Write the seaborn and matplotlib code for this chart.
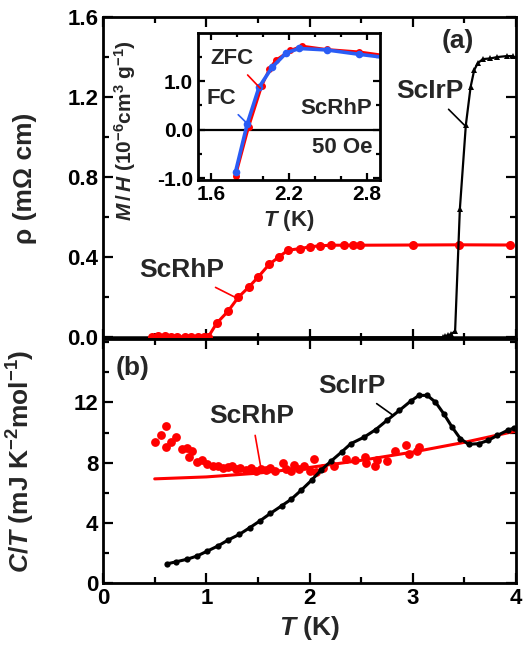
import seaborn as sns
import matplotlib.pyplot as plt
from matplotlib.ticker import MultipleLocator

# (a) resistivity, ScRhP
rhp_T = [0.47, 0.53, 0.60, 0.66, 0.72, 0.79, 0.85, 0.92, 0.98, 1.02, 1.10, 1.21,
         1.31, 1.41, 1.50, 1.61, 1.70, 1.79, 1.91, 2.00, 2.10, 2.21, 2.33, 2.42,
         2.49, 3.00, 3.45, 3.94]
rhp_rho = [0.003, 0.005, 0.004, 0.003, 0.003, 0.002, 0.002, 0.001, 0.001, 0.003,
           0.07, 0.13, 0.20, 0.25, 0.30, 0.365, 0.40, 0.435, 0.443, 0.452, 0.457,
           0.46, 0.46, 0.46, 0.46, 0.461, 0.462, 0.461]
# (a) resistivity, ScIrP
irp_T = [2.0, 3.29, 3.31, 3.34, 3.37, 3.41, 3.456, 3.514, 3.56, 3.595, 3.63, 3.68,
         3.75, 3.82, 3.91, 3.97]
irp_rho = [0.0, 0.0, 0.005, 0.01, 0.015, 0.03, 0.64, 1.06, 1.25, 1.335, 1.37, 1.39,
           1.393, 1.40, 1.405, 1.405]

# inset: M/H of ScRhP
fc_T = [1.79, 1.88, 1.97, 2.07, 2.18, 2.28, 2.49, 2.74, 2.98]
fc_M = [-0.87, 0.12, 0.87, 1.28, 1.58, 1.67, 1.64, 1.55, 1.47]
zfc_T = [1.79, 1.89, 1.99, 2.05, 2.10, 2.21, 2.30, 2.49, 2.74, 2.98]
zfc_M = [-0.95, 0.05, 0.89, 1.25, 1.43, 1.63, 1.72, 1.65, 1.60, 1.51]

# (b) specific heat, ScIrP
irp_cT = [0.62, 0.71, 0.81, 0.91, 1.01, 1.11, 1.21, 1.32, 1.42, 1.52, 1.62, 1.73,
          1.82, 1.92, 2.02, 2.11, 2.21, 2.31, 2.40, 2.53, 2.64, 2.75, 2.87, 2.98,
          3.06, 3.14, 3.22, 3.30, 3.38, 3.46, 3.54, 3.64, 3.73, 3.82, 3.92, 3.98]
irp_C = [1.27, 1.41, 1.57, 1.79, 2.12, 2.45, 2.85, 3.23, 3.67, 4.13, 4.62, 5.13,
         5.55, 6.17, 6.83, 7.49, 8.11, 8.70, 9.26, 9.70, 10.19, 10.81, 11.47, 12.09,
         12.47, 12.47, 12.02, 11.25, 10.37, 9.60, 9.22, 9.26, 9.48, 9.81, 10.15, 10.30]
# (b) specific heat, ScRhP
rhp_cT = [0.50, 0.56, 0.61, 0.61, 0.66, 0.71, 0.76, 0.81, 0.86, 0.83, 0.91, 0.96,
          1.01, 1.06, 1.11, 1.16, 1.21, 1.25, 1.29, 1.33, 1.38, 1.43, 1.48, 1.53,
          1.58, 1.62, 1.67, 1.74, 1.77, 1.82, 1.85, 1.90, 1.95, 2.00, 2.04, 2.06,
          2.13, 2.24, 2.35, 2.44, 2.54, 2.55, 2.63, 2.65, 2.75, 2.83, 2.93, 2.96,
          3.04, 3.06]
rhp_C = [9.37, 9.81, 10.41, 9.04, 9.37, 9.70, 8.93, 8.97, 8.80, 8.37, 8.04, 8.15,
         7.94, 7.80, 7.75, 7.65, 7.70, 7.80, 7.55, 7.65, 7.50, 7.65, 7.45, 7.60,
         7.50, 7.65, 7.45, 7.98, 7.55, 7.45, 7.85, 7.60, 7.80, 7.45, 8.27, 7.35,
         7.65, 7.75, 8.27, 8.15, 8.37, 7.98, 7.75, 8.15, 8.10, 8.75, 9.20, 8.60,
         8.80, 9.05]
fit_T = [0.5, 1.0, 1.5, 2.0, 2.5, 3.0, 3.5, 4.0]
fit_C = [6.92, 7.05, 7.30, 7.68, 8.15, 8.70, 9.35, 10.10]

sns.set_style('ticks')
plt.rcParams['font.family'] = ['Liberation Sans', 'DejaVu Sans']
plt.rcParams['font.weight'] = 'bold'
plt.rcParams['axes.labelweight'] = 'bold'
plt.rcParams['mathtext.fontset'] = 'custom'
plt.rcParams['mathtext.rm'] = 'Liberation Sans:bold'
plt.rcParams['mathtext.it'] = 'Liberation Sans:bold:italic'
plt.rcParams['mathtext.default'] = 'regular'

fig = plt.figure(figsize=(5.26, 6.55), dpi=100)
ax1 = fig.add_axes([0.196, 0.482, 0.785, 0.492])
ax2 = fig.add_axes([0.196, 0.110, 0.785, 0.372])
axi = fig.add_axes([0.376, 0.725, 0.3466, 0.224])


def style(ax, lab=16):
    for s in ax.spines.values():
        s.set_linewidth(2)
        s.set_color('black')
    ax.tick_params(which='both', direction='in', top=True, right=True,
                   width=1.6, labelsize=lab, colors='black')
    ax.tick_params(which='major', length=7)
    ax.tick_params(which='minor', length=4)


line = dict(arrowstyle='-', lw=1.2, shrinkA=3, shrinkB=0)

# panel (a)
ax1.axhline(0, color='black', lw=1.8)
sns.lineplot(x=rhp_T, y=rhp_rho, ax=ax1, color='red', lw=2.2, marker='o',
             markersize=6.5, markeredgewidth=0, sort=False, estimator=None)
sns.lineplot(x=irp_T, y=irp_rho, ax=ax1, color='black', lw=1.6, marker='^',
             markersize=5, markeredgewidth=0, sort=False, estimator=None)
ax1.set_xlim(0, 4)
ax1.set_ylim(-0.01, 1.6)
ax1.xaxis.set_major_locator(MultipleLocator(1))
ax1.xaxis.set_minor_locator(MultipleLocator(0.5))
ax1.yaxis.set_major_locator(MultipleLocator(0.4))
ax1.yaxis.set_minor_locator(MultipleLocator(0.2))
ax1.yaxis.set_major_formatter(plt.FormatStrFormatter('%.1f'))
style(ax1)
ax1.tick_params(labelbottom=False)
ax1.set_ylabel('ρ (mΩ cm)', fontsize=19)
ax1.yaxis.set_label_coords(-0.16, 0.5)
ax1.text(3.44, 1.48, '(a)', fontsize=19, ha='center', va='center')
ax1.annotate('ScIrP', xy=(3.50, 1.06), xytext=(3.17, 1.23), fontsize=19,
             ha='center', va='center', arrowprops=dict(line, color='black'))
ax1.annotate('ScRhP', xy=(1.29, 0.197), xytext=(0.76, 0.335), fontsize=19,
             ha='center', va='center', arrowprops=dict(line, color='red'))

# inset
axi.axhline(0, color='black', lw=1.6)
sns.lineplot(x=zfc_T, y=zfc_M, ax=axi, color='red', lw=2, marker='o',
             markersize=5, markeredgewidth=0, sort=False, estimator=None)
sns.lineplot(x=fc_T, y=fc_M, ax=axi, color='#2a5cf5', lw=2.6, marker='o',
             markersize=5.5, markeredgewidth=0, sort=False, estimator=None)
axi.set_xlim(1.5, 2.9)
axi.set_ylim(-1.04, 1.98)
axi.set_xticks([1.6, 2.2, 2.8])
axi.xaxis.set_minor_locator(MultipleLocator(0.2))
axi.set_yticks([-1.0, 0.0, 1.0])
axi.yaxis.set_minor_locator(MultipleLocator(0.5))
axi.yaxis.set_major_formatter(plt.FormatStrFormatter('%.1f'))
style(axi, lab=15)
axi.tick_params(which='major', length=5)
axi.tick_params(which='minor', length=3)
axi.set_xlabel('$\\mathit{T}$ (K)', fontsize=16, labelpad=3)
axi.set_ylabel('$\\mathit{M}\\,/\\,\\mathit{H}$ (10$^{-6}$cm$^{3}$ g$^{-1}$)',
               fontsize=15)
axi.yaxis.set_label_coords(-0.33, 0.34)
axi.annotate('ZFC', xy=(1.98, 0.85), xytext=(1.76, 1.47), fontsize=16,
             ha='center', va='center', arrowprops=dict(line, color='red'))
axi.annotate('FC', xy=(1.87, 0.15), xytext=(1.68, 0.65), fontsize=16,
             ha='center', va='center', arrowprops=dict(line, color='#2a5cf5'))
axi.text(2.84, 0.44, 'ScRhP', fontsize=16, ha='right', va='center')
axi.text(2.84, -0.36, '50 Oe', fontsize=16, ha='right', va='center')

# panel (b)
sns.lineplot(x=fit_T, y=fit_C, ax=ax2, color='red', lw=2.2, sort=False,
             estimator=None)
sns.scatterplot(x=rhp_cT, y=rhp_C, ax=ax2, color='red', s=40, linewidth=0)
sns.lineplot(x=irp_cT, y=irp_C, ax=ax2, color='black', lw=2.2, marker='o',
             markersize=4.5, markeredgewidth=0, sort=False, estimator=None)
ax2.set_xlim(0, 4)
ax2.set_ylim(0, 16.2)
ax2.xaxis.set_major_locator(MultipleLocator(1))
ax2.xaxis.set_minor_locator(MultipleLocator(0.5))
ax2.set_yticks([0, 4, 8, 12])
ax2.yaxis.set_minor_locator(MultipleLocator(2))
style(ax2)
ax2.set_xlabel('$\\mathit{T}$ (K)', fontsize=19, labelpad=4)
ax2.set_ylabel('$\\mathit{C}/\\mathit{T}$ (mJ K$^{-2}$mol$^{-1}$)', fontsize=19)
ax2.yaxis.set_label_coords(-0.16, 0.5)
ax2.text(0.12, 14.3, '(b)', fontsize=19, ha='left', va='center')
ax2.annotate('ScIrP', xy=(2.81, 11.14), xytext=(2.41, 13.1), fontsize=19,
             ha='center', va='center', arrowprops=dict(line, color='black'))
ax2.annotate('ScRhP', xy=(1.53, 7.6), xytext=(1.44, 11.1), fontsize=19,
             ha='center', va='center', arrowprops=dict(line, color='red'))

fig.savefig('out.png', dpi=100)
